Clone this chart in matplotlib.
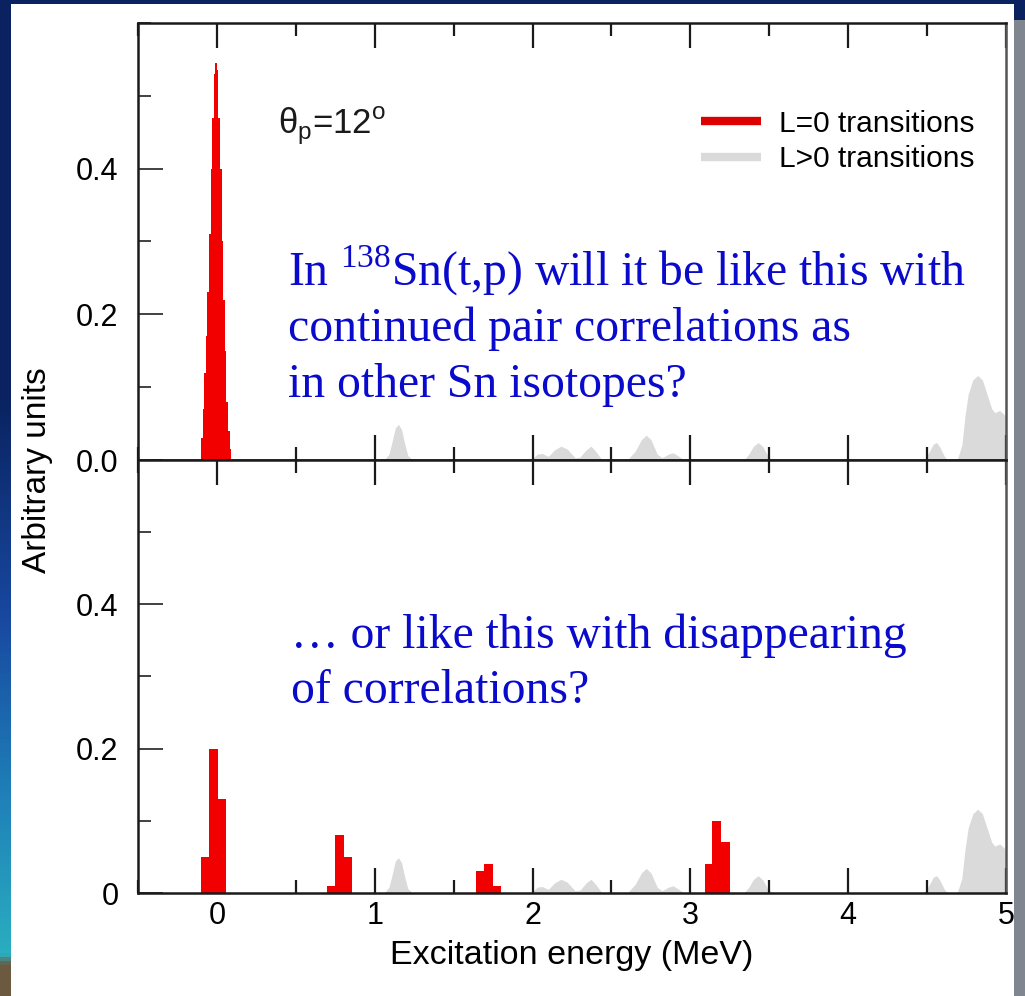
import numpy as np
import matplotlib
matplotlib.use("Agg")
import matplotlib.pyplot as plt
from matplotlib.lines import Line2D
from matplotlib.patches import Rectangle
from matplotlib.colors import LinearSegmentedColormap
from matplotlib.ticker import FixedLocator, MultipleLocator, FixedFormatter

# ---------------- data ----------------
# L=0 strength with continued pairing: finely binned (0.01 MeV) ground-state peak
l0_peak_edges = [-0.10, -0.09, -0.08, -0.07, -0.06, -0.05, -0.04, -0.03, -0.02, -0.01,
                 0.00, 0.01, 0.02, 0.03, 0.04, 0.05, 0.06, 0.07, 0.08, 0.09]
l0_peak_values = [0.03, 0.07, 0.12, 0.17, 0.23, 0.31, 0.40, 0.47, 0.53, 0.545,
                  0.535, 0.47, 0.40, 0.30, 0.22, 0.15, 0.08, 0.04, 0.015]

# L=0 strength with vanishing pair correlations (left bin edges, MeV)
l0_frag_left = [-0.10, -0.048, 0.004, 0.70, 0.75, 0.80, 1.64, 1.695, 1.75, 3.09, 3.14, 3.195]
l0_frag_values = [0.05, 0.20, 0.13, 0.01, 0.08, 0.05, 0.03, 0.04, 0.01, 0.04, 0.10, 0.07]
l0_frag_width = 0.053

# L>0 strength (same in both panels)
lgt0_energy = [1.06, 1.09, 1.11, 1.13, 1.15, 1.17, 1.19, 1.21, 1.24,
               1.99, 2.03, 2.06, 2.10, 2.14, 2.18, 2.22, 2.27, 2.30, 2.34, 2.37, 2.40, 2.44,
               2.60, 2.65, 2.69, 2.72, 2.75, 2.79, 2.82, 2.86, 2.89, 2.92, 2.96,
               3.34, 3.37, 3.40, 3.43, 3.46, 3.49, 3.52,
               4.48, 4.51, 4.54, 4.56, 4.58, 4.61, 4.63,
               4.69, 4.72, 4.74, 4.76, 4.79, 4.82, 4.85, 4.88, 4.91, 4.93, 4.96, 4.98, 5.00]
lgt0_values = [0.0, 0.008, 0.025, 0.044, 0.049, 0.042, 0.022, 0.006, 0.0,
               0.0, 0.008, 0.009, 0.005, 0.014, 0.019, 0.015, 0.003, 0.004, 0.014, 0.019, 0.012, 0.0,
               0.0, 0.012, 0.028, 0.034, 0.028, 0.008, 0.003, 0.008, 0.010, 0.006, 0.0,
               0.0, 0.008, 0.019, 0.024, 0.018, 0.006, 0.0,
               0.0, 0.010, 0.022, 0.024, 0.018, 0.005, 0.0,
               0.0, 0.020, 0.060, 0.090, 0.110, 0.116, 0.110, 0.090, 0.070, 0.065, 0.068, 0.064, 0.060]

y_ticks = [0.0, 0.2, 0.4]
y_labels_top = ["0.0", "0.2", "0.4"]
y_labels_bottom = ["0", "0.2", "0.4"]
x_ticks = [0, 1, 2, 3, 4, 5]
x_labels = ["0", "1", "2", "3", "4", "5"]

RED = "#f20000"
GREY = "#dadada"
NAVY = "#0a2360"
BLUE_TXT = "#0a0acc"

plt.rcParams["font.family"] = ["Liberation Sans", "DejaVu Sans"]
plt.rcParams["mathtext.fontset"] = "custom"
plt.rcParams["mathtext.rm"] = "Liberation Serif"
plt.rcParams["mathtext.sf"] = "Liberation Sans"

W, H = 1025, 996
fig = plt.figure(figsize=(W / 100, H / 100), dpi=100, facecolor=NAVY)

# slide background: white sheet, grey right strip, gradient left strip
fig.patches.append(Rectangle((11 / W, 0), (1014 - 11) / W, (H - 4) / H,
                             transform=fig.transFigure, facecolor="white",
                             edgecolor="none", zorder=-10))
fig.patches.append(Rectangle((1014 / W, 0), 11 / W, (H - 20) / H,
                             transform=fig.transFigure, facecolor="#7f868f",
                             edgecolor="none", zorder=-10))
strip = fig.add_axes([0, 0, 11 / W, 1], zorder=-5)
cmap = LinearSegmentedColormap.from_list(
    "strip", [(0.0, "#6b5a40"), (0.03, "#6b5a40"), (0.04, "#2aaec0"),
              (0.2, "#1f80b8"), (0.38, "#1848a0"), (0.6, NAVY), (1.0, NAVY)])
strip.imshow(np.linspace(1, 0, 256).reshape(-1, 1), aspect="auto", cmap=cmap,
             extent=[0, 1, 0, 1])
strip.axis("off")

left = 138 / W
width = (1006 - 138) / W
ax_top = fig.add_axes([left, (H - 460) / H, width, (460 - 23) / H])
ax_bot = fig.add_axes([left, (H - 893) / H, width, (893 - 460) / H])


def style(ax, ylabels):
    ax.set_xlim(-0.5, 5.0)
    ax.set_ylim(0, 0.6)
    for s in ax.spines.values():
        s.set_linewidth(1.8)
        s.set_color("#1a1a1a")
    ax.spines["right"].set_color("#555555")
    ax.xaxis.set_major_locator(FixedLocator(x_ticks))
    ax.xaxis.set_minor_locator(MultipleLocator(0.5))
    ax.yaxis.set_major_locator(FixedLocator(y_ticks))
    ax.yaxis.set_major_formatter(FixedFormatter(ylabels))
    ax.yaxis.set_minor_locator(MultipleLocator(0.1))
    ax.tick_params(axis="x", which="both", direction="in", top=True, bottom=True,
                   width=1.6, color="#1a1a1a")
    ax.tick_params(axis="x", which="major", length=18, labelsize=22, pad=6)
    ax.tick_params(axis="x", which="minor", length=9.5)
    ax.tick_params(axis="y", which="both", direction="in", left=True, right=False,
                   width=1.3, color="#333333")
    ax.tick_params(axis="y", which="major", length=18, labelsize=22, pad=14)
    ax.tick_params(axis="y", which="minor", length=9)
    ax.fill_between(lgt0_energy, lgt0_values, 0, color=GREY, lw=0, zorder=1)


style(ax_top, y_labels_top)
style(ax_bot, y_labels_bottom)

ax_top.tick_params(axis="x", which="both", labelbottom=False)
ax_bot.set_xticklabels(x_labels)

# L=0 strength: one stepped outline for the sharp peak, bars for the fragments
ax_top.fill_between(l0_peak_edges, l0_peak_values + [l0_peak_values[-1]], 0,
                    step="post", color=RED, lw=0, zorder=2)
ax_bot.bar(l0_frag_left, l0_frag_values, width=l0_frag_width, align="edge",
           color=RED, lw=0, zorder=2)

ax_bot.set_xlabel("Excitation energy (MeV)", fontsize=24.5, labelpad=6)
fig.text(38 / W, 1 - 470 / H, "Arbitrary units", rotation=90, fontsize=24,
         ha="center", va="center")

# angle label and legend
ax_top.text(0.385, 0.448, r"θ$_\mathsf{p}$=12$^\mathsf{o}$", fontsize=25,
            ha="left", va="baseline", color="#1a1a1a")
handles = [Line2D([], [], color="#dd0000", lw=6, solid_capstyle="butt"),
           Line2D([], [], color=GREY, lw=6, solid_capstyle="butt")]
ax_top.legend(handles, ["L=0 transitions", "L>0 transitions"], loc="upper right",
              bbox_to_anchor=(0.977, 0.829), frameon=False, fontsize=21.5,
              handlelength=2.0, handletextpad=0.6, labelspacing=0.25,
              borderaxespad=0)

# questions
serif = ["Liberation Serif", "DejaVu Serif"]
top_lines = [r"In $^\mathrm{138}$Sn(t,p) will it be like this with",
             "continued pair correlations as",
             "in other Sn isotopes?"]
top_baselines = [0.240, 0.163, 0.0863]
for txt, yb in zip(top_lines, top_baselines):
    ax_top.text(0.449, yb, txt, fontsize=34.3, family=serif, color=BLUE_TXT,
                ha="left", va="baseline", zorder=5)

bot_lines = ["… or like this with disappearing", "of correlations?"]
bot_baselines = [0.339, 0.263]
for txt, yb in zip(bot_lines, bot_baselines):
    ax_bot.text(0.468, yb, txt, fontsize=34.3, family=serif, color=BLUE_TXT,
                ha="left", va="baseline", zorder=5)

fig.savefig("out.png", dpi=100, facecolor=fig.get_facecolor())
